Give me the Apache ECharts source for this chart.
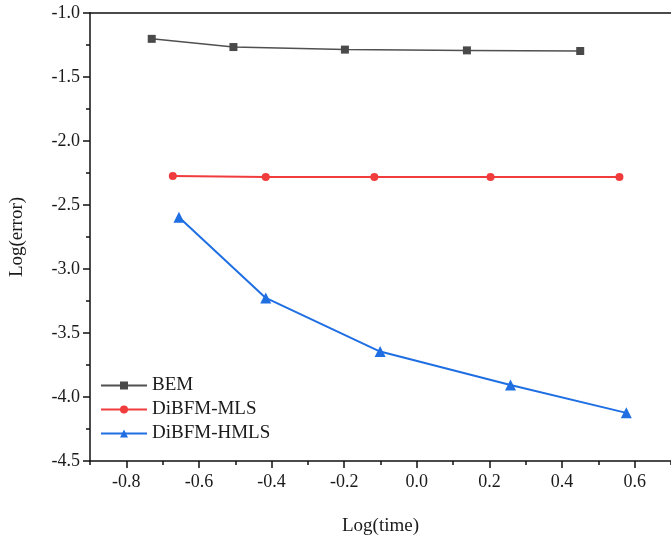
<!DOCTYPE html>
<html>
<head>
<meta charset="utf-8">
<script src="https://cdn.jsdelivr.net/npm/echarts@6/dist/echarts.min.js"></script>
<style>html,body{margin:0;padding:0;background:#fff;}#c{width:671px;height:541px;}</style>
</head>
<body>
<div id="c"></div>
<script>
const bemX = [-0.730, -0.505, -0.198, 0.138, 0.450];
const bemY = [-1.202, -1.266, -1.286, -1.292, -1.297];
const mlsX = [-0.672, -0.416, -0.117, 0.203, 0.558];
const mlsY = [-2.274, -2.281, -2.281, -2.281, -2.281];
const hmlsX = [-0.655, -0.416, -0.101, 0.258, 0.577];
const hmlsY = [-2.595, -3.226, -3.645, -3.906, -4.124];
const xMajorTicks = [-0.8, -0.6, -0.4, -0.2, 0.0, 0.2, 0.4, 0.6];
const xMinorTicks = [-0.9, -0.7, -0.5, -0.3, -0.1, 0.1, 0.3, 0.5, 0.7];

const pairs = (xs, ys) => xs.map((x, i) => [x, ys[i]]);
const font = '"Liberation Serif", "Times New Roman", serif';
const txt = '#1a1a1a';

const chart = echarts.init(document.getElementById('c'));
chart.setOption({
  animation: false,
  backgroundColor: '#fff',
  grid: { left: 81.7, top: 13, width: 595, height: 456 },
  legend: {
    left: 95, top: 371, orient: 'vertical',
    itemWidth: 46, itemHeight: 10, itemGap: 5,
    textStyle: { fontFamily: font, fontSize: 19, color: txt },
    data: ['BEM', 'DiBFM-MLS', 'DiBFM-HMLS']
  },
  xAxis: [
    {
      type: 'value', position: 'bottom', min: -0.9, max: 0.7,
      name: 'Log(time)', nameLocation: 'middle', nameGap: 56,
      nameTextStyle: { fontFamily: font, fontSize: 19, color: txt },
      axisLine: { show: true, onZero: false, lineStyle: { color: '#111', width: 1.5 } },
      axisTick: { show: true, length: 7, customValues: xMajorTicks, lineStyle: { color: '#111', width: 1.5 } },
      axisLabel: { customValues: xMajorTicks, fontFamily: font, fontSize: 18, color: txt, margin: 12,
        formatter: v => v.toFixed(1) },
      splitLine: { show: false }
    },
    {
      type: 'value', position: 'bottom', min: -0.9, max: 0.7,
      axisLine: { show: false, onZero: false },
      axisTick: { show: true, length: 4, customValues: xMinorTicks, lineStyle: { color: '#111', width: 1.5 } },
      axisLabel: { show: false },
      splitLine: { show: false }
    },
    {
      type: 'value', position: 'top', min: -0.9, max: 0.7,
      axisLine: { show: true, onZero: false, lineStyle: { color: '#111', width: 1.5 } },
      axisTick: { show: false }, axisLabel: { show: false }, splitLine: { show: false }
    }
  ],
  yAxis: {
    type: 'value', min: -4.5, max: -1.0, interval: 0.5,
    name: 'Log(error)', nameLocation: 'middle', nameGap: 63,
    nameTextStyle: { fontFamily: font, fontSize: 19, color: txt },
    axisLine: { show: true, onZero: false, lineStyle: { color: '#111', width: 1.5 } },
    axisTick: { show: true, length: 7, lineStyle: { color: '#111', width: 1.5 } },
    minorTick: { show: true, splitNumber: 2, length: 4, lineStyle: { color: '#111', width: 1.5 } },
    axisLabel: { fontFamily: font, fontSize: 18, color: txt, margin: 10, formatter: v => v.toFixed(1) },
    splitLine: { show: false }
  },
  series: [
    { name: 'BEM', type: 'line', data: pairs(bemX, bemY),
      symbol: 'rect', symbolSize: 8, itemStyle: { color: '#4a4a4a' },
      lineStyle: { color: '#505050', width: 1.5 } },
    { name: 'DiBFM-MLS', type: 'line', data: pairs(mlsX, mlsY),
      symbol: 'circle', symbolSize: 8, itemStyle: { color: '#f03c3c' },
      lineStyle: { color: '#f03c3c', width: 2 } },
    { name: 'DiBFM-HMLS', type: 'line', data: pairs(hmlsX, hmlsY),
      symbol: 'triangle', symbolSize: 11, itemStyle: { color: '#1f6fe3' },
      lineStyle: { color: '#1f6fe3', width: 2 } }
  ]
});
</script>
</body>
</html>
